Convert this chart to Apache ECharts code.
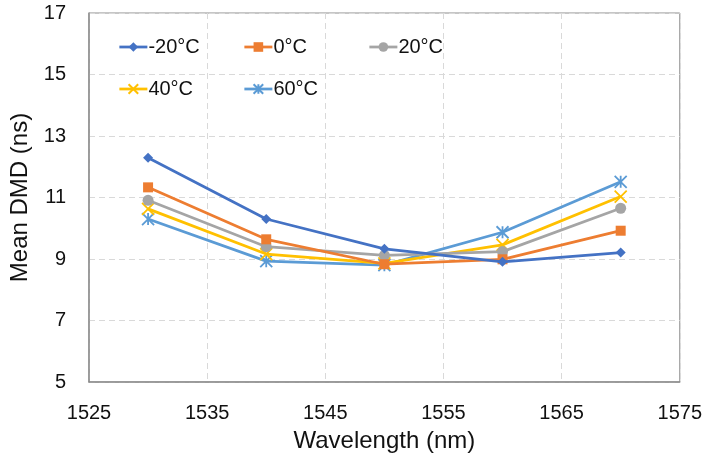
<!DOCTYPE html>
<html>
<head>
<meta charset="utf-8">
<script src="https://cdn.jsdelivr.net/npm/echarts@6/dist/echarts.min.js"></script>
<style>
html,body{margin:0;padding:0;background:#fff;}
#chart{width:705px;height:464px;}
</style>
</head>
<body>
<div id="chart"></div>
<script>
// ---- data ----
var wavelengths = [1530, 1540, 1550, 1560, 1570];
var seriesNames = ['-20°C', '0°C', '20°C', '40°C', '60°C'];
var valsM20 = [12.29, 10.30, 9.33, 8.91, 9.21];
var vals0   = [11.33, 9.64, 8.83, 8.99, 9.92];
var vals20  = [10.91, 9.40, 9.12, 9.24, 10.65];
var vals40  = [10.63, 9.16, 8.86, 9.46, 11.03];
var vals60  = [10.30, 8.93, 8.80, 9.87, 11.51];
var xTicks = [1525, 1535, 1545, 1555, 1565, 1575];
var yTicks = [5, 7, 9, 11, 13, 15, 17];

var allVals = [valsM20, vals0, vals20, vals40, vals60];
var colors = ['#4472C4', '#ED7D31', '#A5A5A5', '#FFC000', '#5B9BD5'];
var symbols = [
  'diamond',
  'rect',
  'circle',
  'path://M0,0L10,10M10,0L0,10',
  'path://M5,0L5,10M0,0L10,10M10,0L0,10'
];
var symSizes = [10, 10, 11, 12, 12];
var FONT = '"Liberation Sans", Arial, sans-serif';

function pairs(xs, ys) {
  return xs.map(function (x, i) { return [x, ys[i]]; });
}

var series = seriesNames.map(function (name, i) {
  var isPath = symbols[i].indexOf('path://') === 0;
  return {
    name: name,
    type: 'line',
    data: pairs(wavelengths, allVals[i]),
    symbol: symbols[i],
    symbolSize: symSizes[i],
    showSymbol: true,
    lineStyle: { color: colors[i], width: 2.75 },
    itemStyle: isPath
      ? { color: colors[i], borderColor: colors[i], borderWidth: 1.8 }
      : { color: colors[i], borderWidth: 0 },
    emphasis: { disabled: true },
    animation: false,
    z: 10 - i
  };
});

var legendPos = [
  { left: 118, top: 37 },
  { left: 243, top: 37 },
  { left: 368, top: 37 },
  { left: 118, top: 79 },
  { left: 243, top: 79 }
];
var legends = seriesNames.map(function (name, i) {
  return {
    data: [name],
    left: legendPos[i].left,
    top: legendPos[i].top,
    padding: 0,
    itemWidth: 28,
    itemHeight: 12,
    itemGap: 0,
    selectedMode: false,
    itemStyle: {},
    lineStyle: { width: 2.75 },
    textStyle: { fontFamily: FONT, fontSize: 20, color: '#111', padding: [0, 0, 0, -4] }
  };
});

var chart = echarts.init(document.getElementById('chart'), null, { renderer: 'canvas' });
chart.setOption({
  backgroundColor: '#fff',
  animation: false,
  legend: legends,
  grid: {
    left: 89, right: 23, top: 13, bottom: 82,
    show: true, borderColor: '#8c8c8c', borderWidth: 1, backgroundColor: 'transparent'
  },
  xAxis: {
    type: 'value',
    min: xTicks[0],
    max: xTicks[xTicks.length - 1],
    interval: 10,
    name: 'Wavelength (nm)',
    nameLocation: 'middle',
    nameGap: 47,
    nameTextStyle: { fontFamily: FONT, fontSize: 24, color: '#111' },
    axisLine: { show: true, lineStyle: { color: '#8c8c8c', width: 1.5 } },
    axisTick: { show: false },
    axisLabel: { fontFamily: FONT, fontSize: 20, color: '#111', margin: 21,
      formatter: function (v) { return String(v); } },
    splitLine: { show: true, lineStyle: { color: '#d9d9d9', type: [6, 4], width: 1 } }
  },
  yAxis: {
    type: 'value',
    min: yTicks[0],
    max: yTicks[yTicks.length - 1],
    interval: 2,
    name: 'Mean DMD (ns)',
    nameLocation: 'middle',
    nameGap: 47,
    nameTextStyle: { fontFamily: FONT, fontSize: 24, color: '#111' },
    axisLine: { show: true, lineStyle: { color: '#8c8c8c', width: 1.5 } },
    axisTick: { show: false },
    axisLabel: { fontFamily: FONT, fontSize: 20, color: '#111', margin: 23,
      formatter: function (v) { return String(v); } },
    splitLine: { show: true, lineStyle: { color: '#d9d9d9', type: [6, 4], width: 1 } }
  },
  series: series
});
</script>
</body>
</html>
